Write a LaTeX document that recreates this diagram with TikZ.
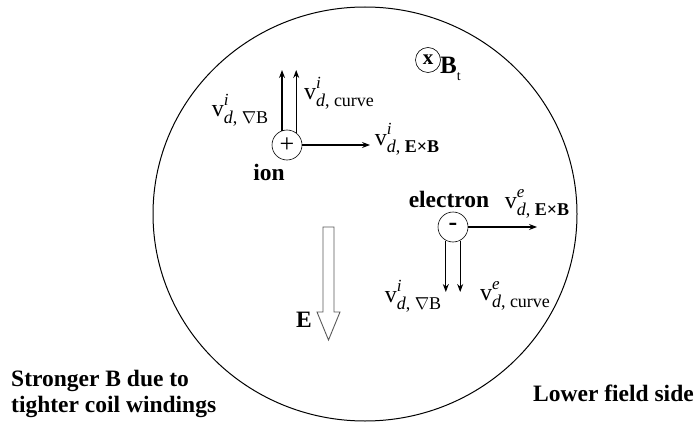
\documentclass[tikz,border=0pt]{standalone}
\usepackage{fontspec}
\setmainfont{Liberation Serif}
\usetikzlibrary{arrows.meta}
\newcommand{\vdr}[2]{{\fontsize{24}{24}\selectfont v}\rlap{\raisebox{11pt}{\fontsize{17}{17}\selectfont\itshape #1}}\raisebox{-7pt}{\fontsize{18}{18}\selectfont #2}}
\tikzset{
  particle/.style={circle,draw,line width=0.6pt,minimum size=30pt,inner sep=0pt,font=\fontsize{26}{26}\selectfont},
  drift/.style={line width=1.1pt,-{Stealth[length=8pt,width=6pt]}},
  lab/.style={inner sep=0pt,font=\fontsize{23.5}{23.5}\selectfont\bfseries},
  vlab/.style={inner sep=0pt},
}
\begin{document}
\begin{tikzpicture}[x=1pt,y=-1pt]
\useasboundingbox (0,0) rectangle (696,425);
% plasma cross-section
\draw[line width=1pt] (365,214) ellipse [x radius=212, y radius=207];
% toroidal field
\node[circle,draw,line width=0.6pt,minimum size=25pt,inner sep=0pt,font=\fontsize{21}{21}\selectfont\bfseries] (bt) at (428,60) {x};
\node[vlab,anchor=west] (btl) at (440,69) {\fontsize{25}{25}\selectfont\bfseries B\raisebox{-7pt}{\fontsize{14}{14}\selectfont\mdseries t}};
% ion
\node[particle] (ion) at (287,145) {+};
\coordinate (ionTop) at (287,70);
\coordinate (ionRight) at (370,145);
\draw[drift] (ion.109.5) -- (ion.109.5 |- ionTop);
\draw[drift] (ion.53) -- (ion.53 |- ionTop);
\draw[drift] (ion.east) -- (ionRight);
\node[lab] (ionl) at (269,172) {ion};
\node[vlab] (vi1) at (240,110) {\vdr{i}{\itshape d\upshape, $\nabla$B}};
\node[vlab] (vi2) at (339,93) {\vdr{i}{\itshape d\upshape, curve}};
\node[vlab] (vi3) at (407,139) {\vdr{i}{\itshape d\upshape, \textbf{E×B}}};
% electron
\node[particle] (ele) at (453,227) {\bfseries -};
\coordinate (eleBot) at (453,292);
\coordinate (eleRight) at (537,227);
\draw[drift] (ele.242) -- (ele.242 |- eleBot);
\draw[drift] (ele.298) -- (ele.298 |- eleBot);
\draw[drift] (ele.east) -- (eleRight);
\node[lab] (elel) at (449,199) {electron};
\node[vlab] (ve1) at (537,204) {\vdr{e}{\itshape d\upshape, \textbf{E×B}}};
\node[vlab] (ve2) at (413,296) {\vdr{i}{\itshape d\upshape, $\nabla$B}};
\node[vlab] (ve3) at (515,296) {\vdr{e}{\itshape d\upshape, curve}};
% electric field
\draw[gray!70!black,line width=0.9pt,line join=miter] (323,227) -- (334,227) -- (334,312) -- (340,312) -- (328.5,340) -- (317,312) -- (323,312) -- cycle;
\node[lab] (el) at (304,320) {E};
% side labels
\node[lab,anchor=west,align=left] (strong) at (11,394) {Stronger B due to\\[3pt]tighter coil windings};
\node[lab,anchor=west] (low) at (533,393) {Lower field side};
\end{tikzpicture}
\end{document}
